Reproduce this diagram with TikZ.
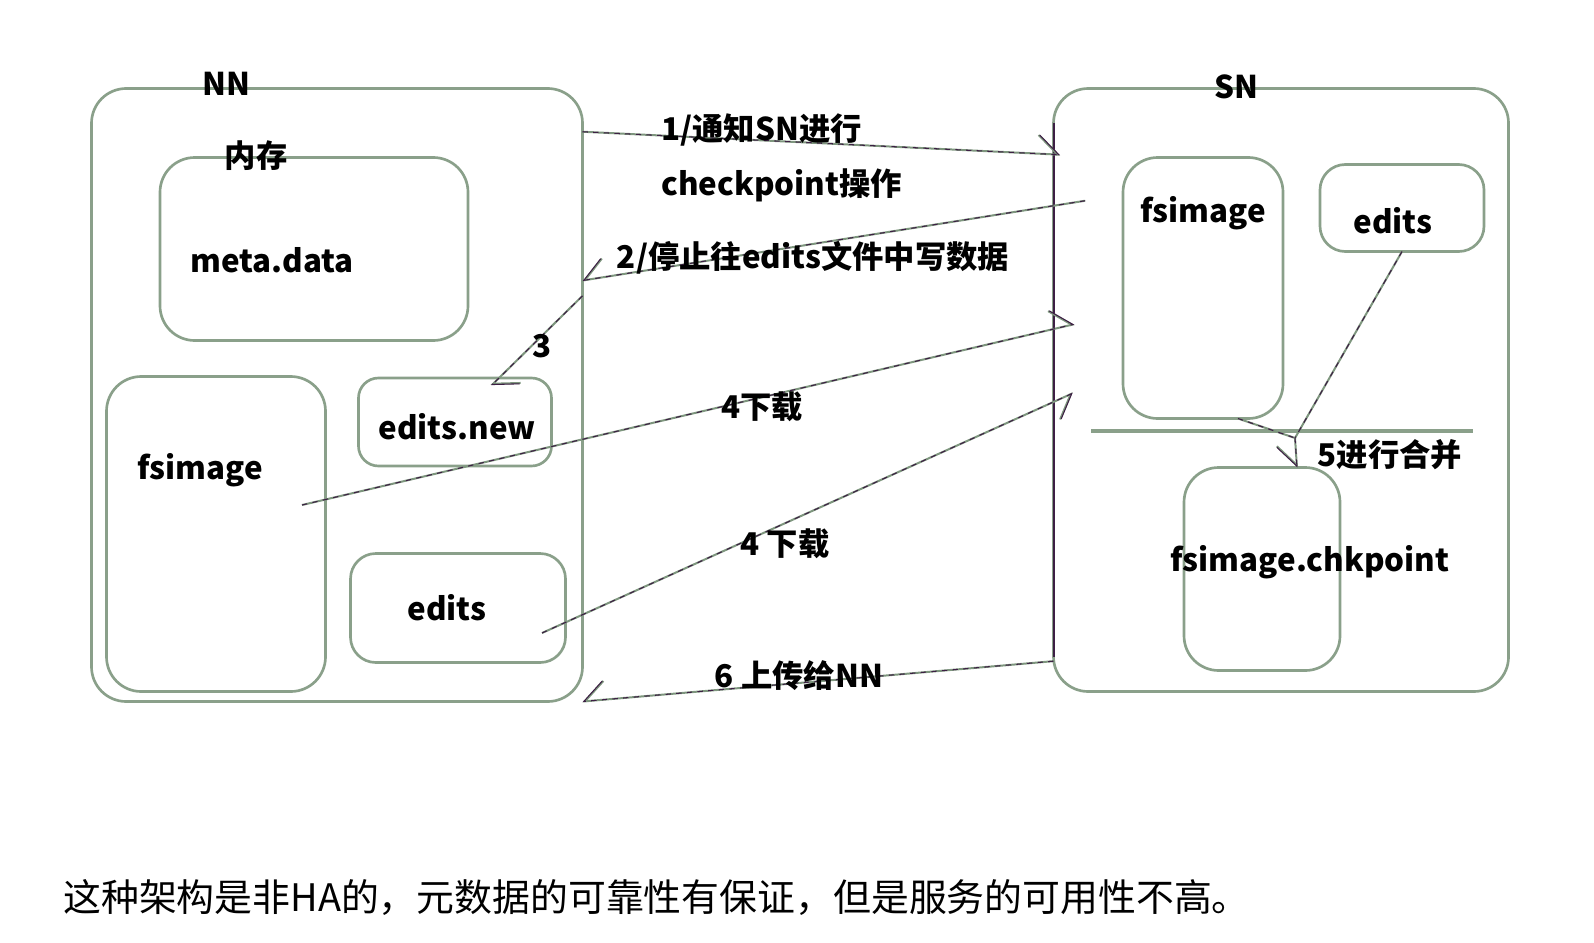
\documentclass[tikz,border=0pt]{standalone}
\usepackage{fontspec}
\setmainfont{Noto Sans CJK SC}
\usetikzlibrary{arrows.meta}

\definecolor{boxgreen}{HTML}{8AA08A}
\definecolor{linegreen}{HTML}{7E967E}
\definecolor{edgepurple}{HTML}{3D1F44}

\begin{document}
\begin{tikzpicture}[x=0.75pt, y=-0.75pt,
	box/.style 2 args={draw=boxgreen, line width=2pt, minimum width=#1*0.75pt, minimum height=#2*0.75pt, inner sep=0pt, outer sep=0pt},
	lbl/.style={font=\bfseries\fontsize{23.5}{41}\selectfont, inner sep=0pt},
	flow/.style={draw=linegreen, line width=1.5pt, postaction={draw=edgepurple, line width=0.8pt, dash pattern=on 4pt off 4pt}},
	barbR/.style={-{Straight Barb[harpoon, swap, length=15pt, width=28pt]}},
	>={Straight Barb[harpoon, length=15pt, width=28pt]}]
	\useasboundingbox (0,0) rectangle (1594,942);
	% boxes
	\foreach \name/\x/\y/\w/\h/\r in {nn/337/395/491/613/26, mem/314/249/308/183/26, nnfs/216/534/219/315/26, nnnew/455/422/193/88/15, nnedits/458/608/215/109/19, sn/1281/390/455/603/26, snfs/1203/288/160/261/26, snedits/1402/208/164/87/19, chk/1262/569/156/203/26}
	{
		\node[box={\w}{\h}, rounded corners=\r pt] (\name) at (\x,\y) {};
	}
	\draw[edgepurple, line width=1.5pt] ([yshift=-26pt]sn.north west) -- ([yshift=26pt]sn.south west);
	\draw[boxgreen, line width=2.5pt] (1091,431) -- (1473,431);
	% texts
	\node[lbl] (nnlbl) at (226,84) {NN};
	\node[lbl] (snlbl) at (1236,87) {SN};
	\node[lbl] (memlbl) at (256,156) {内存};
	\node[lbl] (metalbl) at (272,260) {meta.data};
	\node[lbl] (nnfslbl) at (200,470) {fsimage};
	\node[lbl] (newlbl) at (457,427) {edits.new};
	\node[lbl] (nneditslbl) at (447,608) {edits};
	\node[lbl] (snfslbl) at (1203,213) {fsimage};
	\node[lbl] (sneditslbl) at (1393,221) {edits};
	\node[lbl] (chklbl) at (1310,562) {fsimage.chkpoint};
	% steps
	\coordinate (fsout) at (302,505);
	\coordinate (editsout) at (542,633);
	\coordinate (mrg) at (1295,438);
	\draw[flow, ->, shorten >=-5pt] (nn.47.8) -- (sn.134.9);
	\draw[flow, barbR, shorten <=-24pt] (sn.141.3) -- (nn.25.7);
	\draw[flow, ->, shorten >=-8pt] (nn.22.8) -- (nnnew.45.2);
	\draw[flow, ->, shorten >=-16pt] (fsout) -- (sn.165.5);
	\draw[flow, barbR, shorten >=-16pt] (editsout) -- (sn.183.1);
	\draw[flow] (snfs.285) -- (mrg);
	\draw[flow] (snedits.south) -- (mrg);
	\draw[flow, barbR] (mrg) -- (chk.71);
	\draw[flow, barbR] (sn.230.8) -- (nn.south east);
	\node[lbl, anchor=west] (s1a) at (661,130) {1/通知SN进行};
	\node[lbl, anchor=west] (s1b) at (661,185) {checkpoint操作};
	\node[lbl] (s2) at (813,258) {2/停止往edits文件中写数据};
	\node[lbl] (s3) at (542,346) {3};
	\node[lbl] (s4a) at (762,407) {4下载};
	\node[lbl] (s4b) at (785,544) {4 下载};
	\node[lbl] (s5) at (1390,455) {5进行合并};
	\node[lbl] (s6) at (799,676) {6 上传给NN};
	\node[anchor=west, inner sep=0pt, font=\fontsize{28.4}{35}\selectfont] (note) at (63,897) {这种架构是非HA的，元数据的可靠性有保证，但是服务的可用性不高。};
\end{tikzpicture}
\end{document}
